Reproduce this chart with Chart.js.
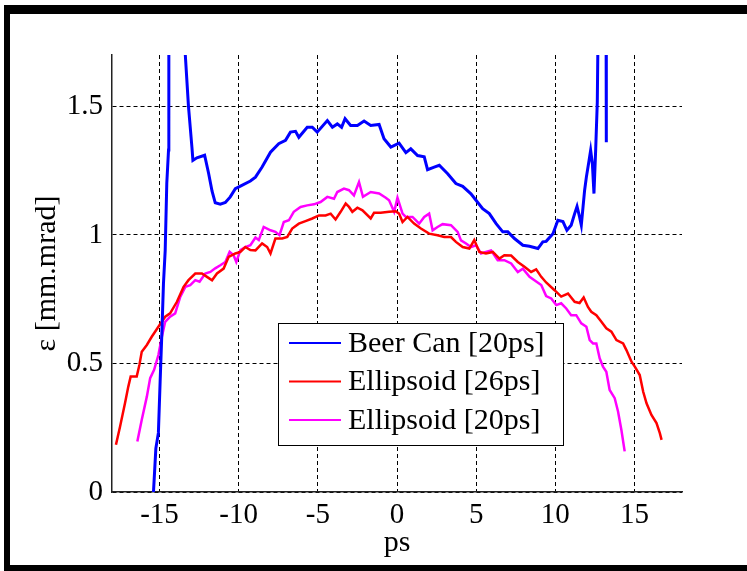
<!DOCTYPE html>
<html>
<head>
<meta charset="utf-8">
<script src="https://cdn.jsdelivr.net/npm/chart.js@4"></script>
<style>
  body { margin: 0; background: #fff; }
  #graph { display: block; }
</style>
</head>
<body>
<canvas id="graph" width="747" height="571"></canvas>
<script>
// tick labels
const xTicks = [-15, -10, -5, 0, 5, 10, 15];
const yTicks = [0, 0.5, 1, 1.5];
const seriesLabels = ["Beer Can [20ps]", "Ellipsoid [26ps]", "Ellipsoid [20ps]"];

// Beer Can [20ps] (goes off the top of the plot at both ends)
const beerX = [-15.38, -15.23, -15.07, -14.96, -14.85, -14.75, -14.64, -14.54, -14.43, -14.41,
  -14.3, -13.8, -13.5, -13.37, -13.17, -12.95, -12.89, -12.64, -12.15, -11.9, -11.68, -11.48,
  -11.16, -10.84, -10.53, -10.21, -9.89, -9.26, -8.94, -8.52, -7.99, -7.47, -7.04, -6.73, -6.41,
  -6.2, -5.67, -5.35, -5.04, -4.4, -4.08, -3.77, -3.5, -3.28, -2.93, -2.5, -2.08, -1.66, -1.13,
  -0.82, -0.39, 0.13, 0.56, 0.87, 1.3, 1.72, 1.93, 2.35, 2.67, 3.2, 3.72, 4.15, 4.67, 4.99, 5.41,
  5.83, 6.26, 6.68, 7.0, 7.42, 7.95, 8.37, 8.9, 9.21, 9.42, 9.85, 10.16, 10.48, 10.73, 11.0, 11.22,
  11.37, 11.53, 11.64, 11.75, 11.85, 11.96, 12.13, 12.23, 12.34, 12.44, 12.55, 12.65, 12.7, 12.9,
  13.1, 13.2, 13.22];
const beerY = [0.0, 0.17, 0.23, 0.43, 0.62, 0.81, 0.94, 1.2, 1.33, 1.8,
  2.6, 2.5, 1.9, 1.70, 1.50, 1.34, 1.29, 1.30, 1.31, 1.24, 1.17, 1.125,
  1.12, 1.126, 1.148, 1.18, 1.19, 1.21, 1.225, 1.264, 1.322, 1.355, 1.368, 1.40, 1.403,
  1.38, 1.419, 1.419, 1.40, 1.445, 1.419, 1.432, 1.419, 1.452, 1.426, 1.426, 1.443, 1.426, 1.43,
  1.374, 1.342, 1.357, 1.32, 1.335, 1.309, 1.304, 1.254, 1.264, 1.271, 1.238, 1.2, 1.189, 1.16, 1.135, 1.102,
  1.083, 1.044, 1.012, 1.012, 0.986, 0.96, 0.956, 0.947, 0.973, 0.975, 1.005, 1.057, 1.052, 1.018, 1.038, 1.083,
  1.111, 1.07, 1.038, 1.109, 1.174, 1.225, 1.29, 1.329, 1.277, 1.161, 1.335, 1.516, 1.8, 2.6,
  2.6, 2.0, 1.361];

// Ellipsoid [26ps]
const ell26X = [-17.75, -17.49, -17.18, -16.97, -16.82, -16.44, -16.27, -16.12, -15.8, -15.49, -15.07,
  -14.64, -14.33, -13.9, -13.48, -13.17, -12.74, -12.32, -12.0, -11.68, -11.37, -10.95, -10.63, -10.21,
  -9.89, -9.58, -9.26, -8.94, -8.52, -8.2, -7.99, -7.68, -7.25, -6.93, -6.62, -6.2, -5.78, -5.35, -4.93,
  -4.51, -4.19, -3.88, -3.56, -3.24, -3.03, -2.82, -2.5, -2.18, -1.66, -1.45, -1.03, -0.5, -0.08, 0.13,
  0.35, 0.66, 1.08, 1.51, 2.03, 2.56, 2.98, 3.41, 3.72, 4.15, 4.57, 4.88, 5.2, 5.62, 6.05, 6.47, 6.78,
  7.21, 7.63, 8.05, 8.47, 8.79, 9.11, 9.42, 9.95, 10.37, 10.8, 11.22, 11.53, 11.79, 12.06, 12.27, 12.59,
  12.91, 13.22, 13.54, 13.86, 14.28, 14.49, 14.81, 15.02, 15.33, 15.55, 15.76, 16.07, 16.39, 16.6, 16.71];
const ell26Y = [0.184, 0.255, 0.345, 0.41, 0.449, 0.449, 0.494, 0.546, 0.572, 0.604, 0.643,
  0.682, 0.695, 0.74, 0.798, 0.824, 0.85, 0.85, 0.837, 0.824, 0.85, 0.869, 0.915, 0.928,
  0.934, 0.953, 0.941, 0.94, 0.967, 0.953, 0.928, 0.986, 0.986, 0.992, 1.025, 1.044, 1.054, 1.064, 1.076,
  1.076, 1.083, 1.06, 1.09, 1.122, 1.109, 1.09, 1.106, 1.096, 1.064, 1.086, 1.086, 1.09, 1.092, 1.083,
  1.05, 1.07, 1.044, 1.025, 1.005, 0.999, 0.992, 0.992, 0.973, 0.953, 0.947, 0.98, 0.934, 0.928, 0.934, 0.908, 0.921,
  0.92, 0.895, 0.876, 0.856, 0.866, 0.837, 0.815, 0.785, 0.76, 0.772, 0.74, 0.735, 0.757, 0.72, 0.701, 0.688,
  0.662, 0.637, 0.624, 0.591, 0.578, 0.552, 0.507, 0.488, 0.455, 0.39, 0.345, 0.3, 0.268, 0.229, 0.203];

// Ellipsoid [20ps]
const ell20X = [-16.4, -16.12, -15.8, -15.59, -15.34, -15.07, -14.85, -14.64, -14.33, -14.01, -13.69,
  -13.37, -13.06, -12.74, -12.47, -12.11, -11.79, -11.48, -11.16, -10.84, -10.57, -10.32, -10.15, -9.89,
  -9.58, -9.26, -8.94, -8.73, -8.42, -7.99, -7.68, -7.42, -7.15, -6.83, -6.52, -6.09, -5.67, -5.25, -4.83,
  -4.4, -3.98, -3.77, -3.35, -3.03, -2.72, -2.4, -2.15, -1.66, -1.13, -0.71, -0.5, -0.18, 0.03, 0.35,
  0.56, 0.98, 1.4, 1.72, 2.03, 2.25, 2.56, 2.88, 3.41, 3.83, 4.04, 4.36, 4.67, 4.99, 5.31, 5.62, 5.94,
  6.15, 6.36, 6.78, 7.21, 7.63, 7.95, 8.37, 8.68, 9.11, 9.42, 9.74, 10.06, 10.37, 10.69, 11.0, 11.32,
  11.64, 11.96, 12.17, 12.38, 12.59, 12.8, 13.01, 13.22, 13.43, 13.75, 13.96, 14.17, 14.38];
const ell20Y = [0.196, 0.281, 0.371, 0.443, 0.475, 0.533, 0.604, 0.662, 0.682, 0.695, 0.759,
  0.798, 0.805, 0.824, 0.818, 0.85, 0.856, 0.87, 0.882, 0.895, 0.934, 0.921, 0.895, 0.941,
  0.953, 0.96, 0.99, 0.98, 1.031, 1.018, 1.012, 0.999, 1.05, 1.057, 1.09, 1.109, 1.115, 1.119, 1.128,
  1.148, 1.141, 1.167, 1.18, 1.174, 1.154, 1.206, 1.148, 1.167, 1.161, 1.145, 1.135, 1.09, 1.145, 1.083,
  1.07, 1.07, 1.044, 1.07, 1.083, 1.018, 1.031, 1.042, 1.038, 1.012, 0.979, 0.967, 0.953, 0.96, 0.928, 0.934, 0.94,
  0.921, 0.902, 0.902, 0.889, 0.856, 0.869, 0.837, 0.824, 0.805, 0.762, 0.753, 0.727, 0.734, 0.714, 0.688, 0.688,
  0.656, 0.643, 0.591, 0.578, 0.578, 0.52, 0.488, 0.468, 0.397, 0.365, 0.313, 0.242, 0.158];

const serif = "'Liberation Serif', 'Times New Roman', serif";

function toPoints(xs, ys) {
  return xs.map((x, i) => ({ x: x, y: ys[i] }));
}

// black frame round the figure
const framePlugin = {
  id: "frame",
  beforeDraw(chart) {
    const ctx = chart.ctx;
    ctx.save();
    ctx.fillStyle = "#fff";
    ctx.fillRect(0, 0, chart.width, chart.height);
    ctx.fillStyle = "#000";
    ctx.fillRect(4, 5, 6, 566);
    ctx.fillRect(4, 5, 743, 9);
    ctx.fillRect(4, 565, 743, 6);
    ctx.restore();
  },
};

// legend box inside the plot, like the matlab one
const boxLegend = {
  id: "boxLegend",
  afterDatasetsDraw(chart) {
    const ctx = chart.ctx;
    const left = 278, top = 323, w = 285, h = 122;
    ctx.save();
    ctx.fillStyle = "#fff";
    ctx.fillRect(left, top, w, h);
    ctx.strokeStyle = "#000";
    ctx.lineWidth = 1;
    ctx.strokeRect(left + 0.5, top + 0.5, w, h);
    ctx.font = "30px " + serif;
    ctx.textBaseline = "middle";
    ctx.fillStyle = "#000";
    chart.data.datasets.forEach((ds, i) => {
      const y = top + 20 + i * 38.5;
      ctx.strokeStyle = ds.borderColor;
      ctx.lineWidth = 2;
      ctx.beginPath();
      ctx.moveTo(left + 11, y);
      ctx.lineTo(left + 63, y);
      ctx.stroke();
      ctx.fillText(ds.label, left + 70, y + 1);
    });
    ctx.restore();
  },
};

const ctx = document.getElementById("graph").getContext("2d");
new Chart(ctx, {
  type: "line",
  data: {
    datasets: [
      {
        label: seriesLabels[0],
        data: toPoints(beerX, beerY),
        borderColor: "#0000ff",
        borderWidth: 3,
      },
      {
        label: seriesLabels[1],
        data: toPoints(ell26X, ell26Y),
        borderColor: "#ff0000",
        borderWidth: 2.5,
      },
      {
        label: seriesLabels[2],
        data: toPoints(ell20X, ell20Y),
        borderColor: "#ff00ff",
        borderWidth: 2.5,
      },
    ],
  },
  options: {
    responsive: false,
    animation: false,
    devicePixelRatio: 1,
    layout: { padding: { top: 55, right: 65, left: 0, bottom: 0 } },
    elements: {
      point: { radius: 0 },
      line: { tension: 0, fill: false, borderJoinStyle: "miter" },
    },
    plugins: {
      legend: { display: false },
      tooltip: { enabled: false },
    },
    scales: {
      x: {
        type: "linear",
        min: -18,
        max: 18,
        afterBuildTicks: (s) => { s.ticks = xTicks.map((v) => ({ value: v })); },
        afterFit: (s) => { s.height = 79; },
        ticks: {
          color: "#000",
          padding: 6,
          font: { family: serif, size: 29 },
          callback: (v) => String(v),
          maxRotation: 0,
        },
        grid: { color: "#000", lineWidth: 1, drawTicks: false },
        border: { display: true, color: "#222", width: 1.5, dash: [4, 3] },
        title: {
          display: true,
          text: "ps",
          color: "#000",
          font: { family: serif, size: 30 },
          padding: { top: 0, bottom: 10 },
        },
      },
      y: {
        type: "linear",
        min: 0,
        max: 1.7,
        afterBuildTicks: (s) => { s.ticks = yTicks.map((v) => ({ value: v })); },
        afterFit: (s) => { s.width = 112; },
        ticks: {
          color: "#000",
          padding: 9,
          font: { family: serif, size: 29 },
          callback: (v) => String(v),
        },
        grid: { color: "#000", lineWidth: 1, drawTicks: false },
        border: { display: true, color: "#222", width: 1.5, dash: [4, 3] },
        title: {
          display: true,
          text: "ε [mm.mrad]",
          color: "#000",
          font: { family: serif, size: 30 },
          padding: { top: 29, bottom: 0 },
        },
      },
    },
  },
  plugins: [framePlugin, boxLegend],
});
</script>
</body>
</html>
